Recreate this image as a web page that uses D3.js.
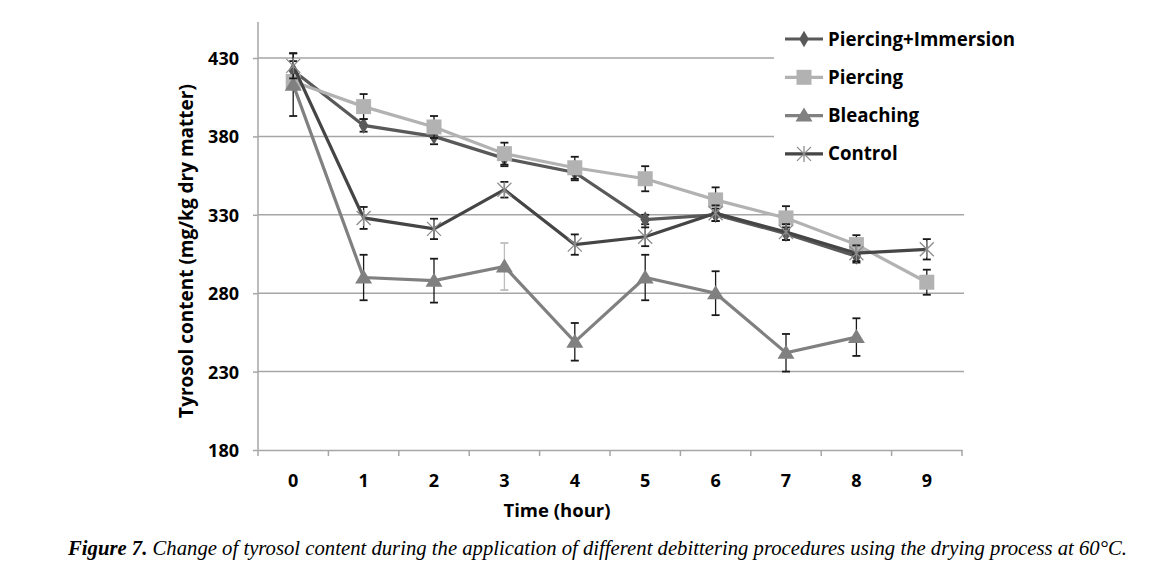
<!DOCTYPE html>
<html>
<head>
<meta charset="utf-8">
<script src="https://cdn.jsdelivr.net/npm/d3@7"></script>
<style>
  body { margin: 0; background: #fff; }
  svg { display: block; }
</style>
</head>
<body>
<svg id="chart" width="1167" height="571"></svg>
<script>
const hours = ["0", "1", "2", "3", "4", "5", "6", "7", "8", "9"];
const yTicks = [180, 230, 280, 330, 380, 430];

// mean values
const piercingImmersion = [422, 387, 380, 366, 357, 327, 330, 318, 303.5];
const piercing = [415, 399, 386, 369, 360, 353, 339.5, 328, 311, 287];
const bleaching = [413, 290, 288, 297, 249, 290, 280, 242, 252];
const control = [425, 328, 321, 346, 311, 316, 331, 319, 305.5, 308];

// error bar half-widths
const errPI = [6, 4, 5, 5, 5, 3, 4, 4, 4];
const errP = [4, 8, 7, 7, 7, 8, 8, 7.5, 6, 8];
const errB = [20, 14.5, 14, 15, 12, 14.5, 14, 12, 12];
const errC = [8, 7, 6.5, 5, 6.5, 6, 5, 5, 5, 6.5];

const series = [
  { name: "Piercing+Immersion", values: piercingImmersion, err: errPI, color: "#595959", marker: "diamond" },
  { name: "Piercing", values: piercing, err: errP, color: "#b2b2b2", marker: "square" },
  { name: "Bleaching", values: bleaching, err: errB, color: "#808080", marker: "triangle" },
  { name: "Control", values: control, err: errC, color: "#454545", marker: "cross" }
];

const svg = d3.select("#chart");
const plotLeft = 258, plotRight = 962, plotTop = 22, plotBottom = 450;

const x = d3.scaleBand().domain(hours).range([plotLeft, plotRight]).padding(0);
const y = d3.scaleLinear().domain([180, 430]).range([plotBottom, 58]);

const font = "'Open Sans', Lato, sans-serif";

// gridlines
svg.append("g").selectAll("line")
  .data(yTicks.slice(1))
  .enter().append("line")
  .attr("x1", plotLeft).attr("x2", plotRight + 2)
  .attr("y1", d => y(d)).attr("y2", d => y(d))
  .attr("stroke", "#a6a6a6").attr("stroke-width", 1.5);

// y axis
const yAxis = svg.append("g")
  .attr("transform", `translate(${plotLeft},0)`)
  .call(d3.axisLeft(y).tickValues(yTicks).tickSize(5).tickPadding(14));
yAxis.select(".domain").remove();
yAxis.selectAll(".tick line").attr("stroke", "#a6a6a6").attr("stroke-width", 1.5);
yAxis.selectAll("text")
  .attr("font-family", font).attr("font-weight", "bold")
  .attr("font-size", 18).attr("fill", "#000").attr("dy", "0.36em");
svg.append("line")
  .attr("x1", plotLeft).attr("x2", plotLeft).attr("y1", plotTop).attr("y2", plotBottom)
  .attr("stroke", "#a6a6a6").attr("stroke-width", 1.5);

// x axis
const xAxis = svg.append("g")
  .attr("transform", `translate(0,${plotBottom})`)
  .call(d3.axisBottom(x).tickSize(0).tickPadding(24));
xAxis.select(".domain").attr("stroke", "#a6a6a6").attr("stroke-width", 1.5);
xAxis.selectAll("text")
  .attr("font-family", font).attr("font-weight", "bold")
  .attr("font-size", 18).attr("fill", "#000");
svg.append("g").selectAll("line")
  .data(hours.concat(["end"]))
  .enter().append("line")
  .attr("x1", (d, i) => plotLeft + i * x.bandwidth())
  .attr("x2", (d, i) => plotLeft + i * x.bandwidth())
  .attr("y1", plotBottom).attr("y2", plotBottom + 6)
  .attr("stroke", "#a6a6a6").attr("stroke-width", 1.5);

// axis titles
svg.append("text")
  .attr("transform", `translate(193,251) rotate(-90)`)
  .attr("text-anchor", "middle")
  .attr("font-family", font).attr("font-weight", "bold").attr("font-size", 19)
  .text("Tyrosol content (mg/kg dry matter)");
svg.append("text")
  .attr("x", 557).attr("y", 517)
  .attr("text-anchor", "middle")
  .attr("font-family", font).attr("font-weight", "bold").attr("font-size", 18.5)
  .text("Time (hour)");

// caption
const cap = svg.append("text")
  .attr("x", 68).attr("y", 555)
  .attr("font-family", "'Liberation Serif', 'Times New Roman', serif")
  .attr("font-style", "italic").attr("font-size", 21)
  .attr("textLength", 1059).attr("lengthAdjust", "spacingAndGlyphs");
cap.append("tspan").attr("font-weight", "bold").text("Figure 7.");
cap.append("tspan").text(" Change of tyrosol content during the application of different debittering procedures using the drying process at 60°C.");

const cx = i => x(hours[i]) + x.bandwidth() / 2;

function drawMarker(g, type, color) {
  if (type === "diamond") {
    g.append("path").attr("d", d3.symbol(d3.symbolDiamond, 80)()).attr("fill", color);
  } else if (type === "square") {
    g.append("rect").attr("x", -7.5).attr("y", -7.5).attr("width", 15).attr("height", 15).attr("fill", color);
  } else if (type === "triangle") {
    g.append("path").attr("d", "M0,-8L8.5,6L-8.5,6Z").attr("fill", color);
  } else {
    g.append("path").attr("d", "M-7,-7L7,7M-7,7L7,-7M0,-8V8")
      .attr("stroke", "#8c8c8c").attr("stroke-width", 1.3).attr("fill", "none");
  }
}

const line = d3.line().x((d, i) => cx(i)).y(d => y(d));

series.forEach(s => {
  const g = svg.append("g");
  // error bars
  s.values.forEach((v, i) => {
    const e = s.err[i];
    const col = (s.name === "Bleaching" && i === 3) ? "#bdbdbd" : "#1a1a1a";
    g.append("line").attr("x1", cx(i)).attr("x2", cx(i))
      .attr("y1", y(v + e)).attr("y2", y(v - e))
      .attr("stroke", col).attr("stroke-width", 1.3);
    [v + e, v - e].forEach(w => {
      g.append("line").attr("x1", cx(i) - 4).attr("x2", cx(i) + 4)
        .attr("y1", y(w)).attr("y2", y(w))
        .attr("stroke", col).attr("stroke-width", 1.8);
    });
  });
  g.append("path").datum(s.values)
    .attr("d", line).attr("fill", "none")
    .attr("stroke", s.color).attr("stroke-width", 3.2);
  s.values.forEach((v, i) => {
    drawMarker(g.append("g").attr("transform", `translate(${cx(i)},${y(v)})`), s.marker, s.color);
  });
});

// legend
const legend = svg.append("g");
legend.append("rect").attr("x", 774).attr("y", 22).attr("width", 270).attr("height", 150).attr("fill", "#fff");
series.forEach((s, i) => {
  const ly = 39 + i * 38.3;
  legend.append("line").attr("x1", 785).attr("x2", 823).attr("y1", ly).attr("y2", ly)
    .attr("stroke", s.color).attr("stroke-width", 3.2);
  drawMarker(legend.append("g").attr("transform", `translate(804,${ly})`), s.marker, s.color);
  legend.append("text").attr("x", 828).attr("y", ly + 6.5)
    .attr("font-family", font).attr("font-weight", "bold").attr("font-size", 18.7)
    .text(s.name);
});
</script>
</body>
</html>
